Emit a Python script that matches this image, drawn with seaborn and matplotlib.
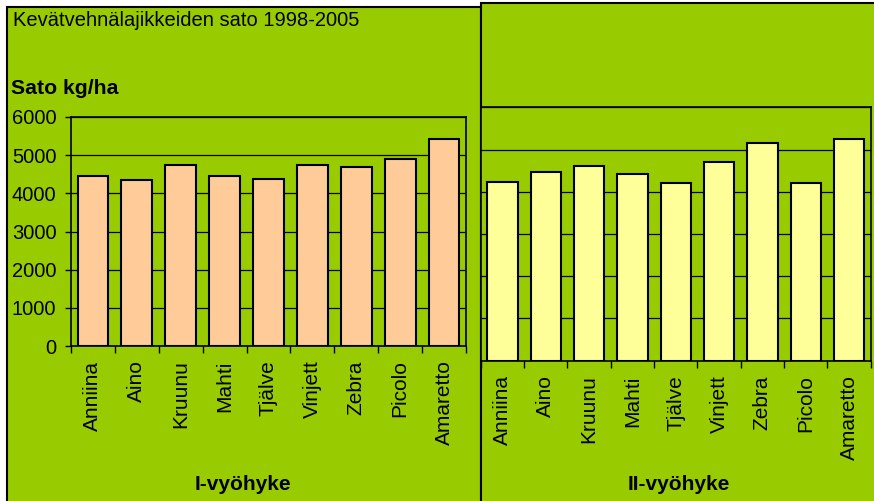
import matplotlib
matplotlib.use("Agg")
import matplotlib.pyplot as plt
from matplotlib.patches import Rectangle
import numpy as np
import seaborn as sns


VARIETIES = ["Anniina", "Aino", "Kruunu", "Mahti", "Tjälve", "Vinjett", "Zebra", "Picolo", "Amaretto"]
ZONE_I = [4450, 4360, 4750, 4450, 4370, 4740, 4700, 4910, 5415]
ZONE_II = [4240, 4470, 4620, 4430, 4200, 4700, 5150, 4200, 5260]
Y_TICKS = [0, 1000, 2000, 3000, 4000, 5000, 6000]

TITLE = "Kevätvehnälajikkeiden sato 1998-2005"
Y_LABEL = "Sato kg/ha"
ZONE_I_LABEL = "I-vyöhyke"
ZONE_II_LABEL = "II-vyöhyke"

W, H = 874, 501
GREEN = "#99CC00"
FONT_SIZE = 14.5


def fx(px: float) -> float:
    return px / W


def fy(py: float) -> float:
    return 1 - py / H


def add_panel(fig, left, top, right, bottom) -> None:
    rect = Rectangle(
        (fx(left), fy(bottom)), fx(right) - fx(left), fy(top) - fy(bottom),
        transform=fig.transFigure, facecolor=GREEN, edgecolor="black", linewidth=1.5, zorder=-5,
    )
    fig.patches.append(rect)


def style_axis(ax, values, bar_color, show_y_labels: bool) -> None:
    sns.barplot(
        x=VARIETIES, y=values, color=bar_color, saturation=1, width=0.7,
        edgecolor="black", linewidth=1.5, ax=ax, zorder=3,
    )
    ax.set_facecolor(GREEN)
    ax.set_xlim(-0.5, len(VARIETIES) - 0.5)
    ax.set_ylim(0, 6000)
    ax.set_yticks(Y_TICKS)
    ax.yaxis.grid(True, color="black", linewidth=0.9)
    ax.xaxis.grid(False)
    ax.set_axisbelow(True)
    for spine in ax.spines.values():
        spine.set_visible(True)
        spine.set_color("black")
        spine.set_linewidth(1.2)

    ax.set_xticks(range(len(VARIETIES)))
    ax.set_xticklabels(VARIETIES, rotation=90)
    ax.set_xticks(np.arange(-0.5, len(VARIETIES)), minor=True)
    ax.tick_params(axis="x", which="major", direction="out", length=3, width=1, color="black",
                   pad=7.5, labelsize=15, labelcolor="black")
    ax.tick_params(axis="x", which="minor", direction="out", length=5, width=1, color="black", bottom=True)
    if show_y_labels:
        ax.tick_params(axis="y", direction="out", length=4.5, width=1, color="black", pad=6,
                       labelsize=FONT_SIZE, labelcolor="black", left=True)
    else:
        ax.tick_params(axis="y", left=False, labelleft=False)
    ax.set_xlabel("")
    ax.set_ylabel("")


def main() -> None:
    sns.set_theme(style="white")
    plt.rcParams["font.family"] = ["Liberation Sans", "DejaVu Sans"]
    plt.rcParams["text.color"] = "black"

    fig = plt.figure(figsize=(W / 100, H / 100), dpi=100, facecolor="white")
    add_panel(fig, 7, 7, 481, 530)
    add_panel(fig, 480.5, 3, 890, 530)

    ax1 = fig.add_axes([fx(71), fy(346), fx(466) - fx(71), fy(117) - fy(346)])
    ax2 = fig.add_axes([fx(480.7), fy(360.7), fx(870.7) - fx(480.7), fy(107.3) - fy(360.7)])
    style_axis(ax1, ZONE_I, "#FFCC99", True)
    style_axis(ax2, ZONE_II, "#FFFF99", False)

    fig.text(fx(13), fy(21), TITLE, fontsize=FONT_SIZE, va="center", ha="left")
    fig.text(fx(11), fy(89), Y_LABEL, fontsize=15.3, fontweight="bold", va="center", ha="left")
    fig.text(fx(243), fy(484), ZONE_I_LABEL, fontsize=15, fontweight="bold", va="center", ha="center")
    fig.text(fx(679), fy(485), ZONE_II_LABEL, fontsize=15, fontweight="bold", va="center", ha="center")

    fig.savefig("out.png", dpi=100, facecolor="white")
    plt.close(fig)


if __name__ == "__main__":
    main()
